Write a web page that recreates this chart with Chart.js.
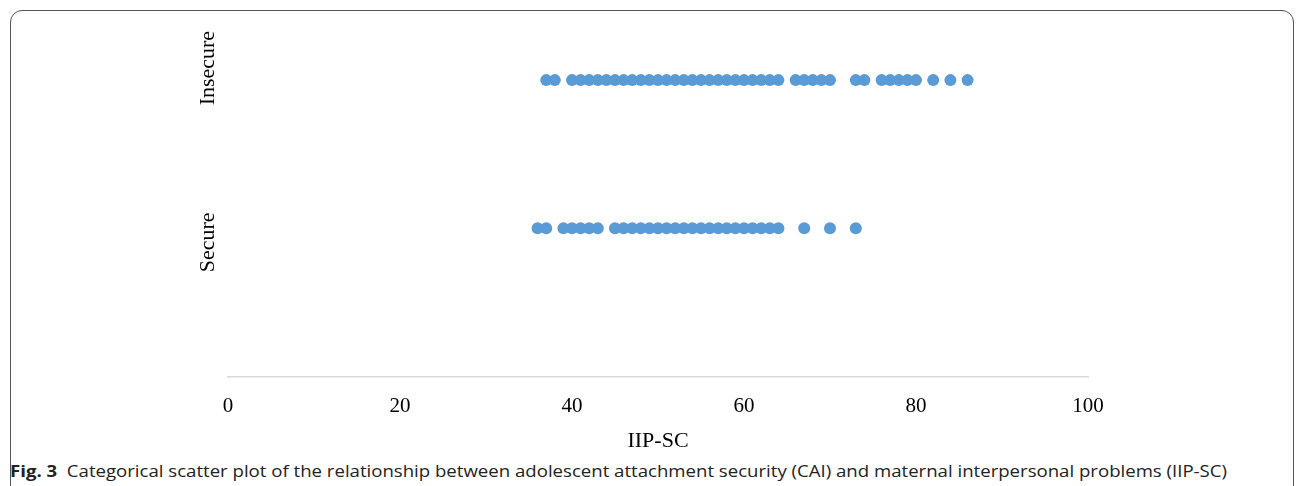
<!DOCTYPE html>
<html>
<head>
<meta charset="utf-8">
<script src="https://cdn.jsdelivr.net/npm/chart.js@4"></script>
<style>
  body { margin: 0; background: #fff; }
  #wrap { position: relative; width: 1296px; height: 486px; overflow: hidden; }
  #frame {
    position: absolute; left: 10px; top: 10px; width: 1284px; height: 520px;
    border: 1.5px solid #555; border-radius: 12px; box-sizing: border-box;
  }
  #plot { position: absolute; left: 0; top: 0; }
  #caption {
    position: absolute; left: 10px; top: 460px; white-space: nowrap;
    font-family: "Open Sans", sans-serif; font-size: 16px; color: #222;
    transform-origin: left center;
  }
  #caption b { font-weight: 700; }
</style>
</head>
<body>
<div id="wrap">
  <div id="frame"></div>
  <canvas id="plot" width="1296" height="458"></canvas>
  <div id="caption"><b>Fig. 3</b>&nbsp; Categorical scatter plot of the relationship between adolescent attachment security (CAI) and maternal interpersonal problems (IIP-SC)</div>
</div>
<script>
// IIP-SC scores (overlapping points collapsed)
const insecureScores = [37, 38, 40, 41, 42, 43, 44, 45, 46, 47, 48, 49, 50, 51, 52, 53, 54, 55, 56,
  57, 58, 59, 60, 61, 62, 63, 64, 66, 67, 68, 69, 70, 73, 74, 76, 77, 78, 79, 80, 82, 84, 86];
const secureScores = [36, 37, 39, 40, 41, 42, 43, 45, 46, 47, 48, 49, 50, 51, 52, 53, 54, 55, 56,
  57, 58, 59, 60, 61, 62, 63, 64, 67, 70, 73];
const groups = ["Secure", "Insecure"];
const xTicks = [0, 20, 40, 60, 80, 100];

const blue = "#5B9BD5";

// rotated category labels on the left, like Excel draws them
const groupLabels = {
    id: 'groupLabels',
    afterDraw(chart) {
        const ctx = chart.ctx;
        const y = chart.scales.y;
        const offsets = [14, -12];
        ctx.save();
        ctx.font = '22px "Liberation Serif", serif';
        ctx.fillStyle = '#000';
        ctx.textAlign = 'center';
        ctx.textBaseline = 'middle';
        groups.forEach(function(name, i) {
            const py = y.getPixelForValue(i + 1) + offsets[i];
            ctx.save();
            ctx.translate(208, py);
            ctx.rotate(-Math.PI / 2);
            ctx.fillText(name, 0, 0);
            ctx.restore();
        });
        ctx.restore();
    }
};

document.addEventListener("DOMContentLoaded", function() {
    let ctx = document.getElementById('plot').getContext('2d');
    new Chart(ctx, {
        type: 'scatter',
        data: {
            datasets: [{
                label: groups[1],
                data: insecureScores.map(v => ({ x: v, y: 2 })),
                backgroundColor: blue,
                borderWidth: 0,
                pointRadius: 6
            }, {
                label: groups[0],
                data: secureScores.map(v => ({ x: v, y: 1 })),
                backgroundColor: blue,
                borderWidth: 0,
                pointRadius: 6
            }]
        },
        options: {
            responsive: false,
            animation: false,
            layout: { padding: { left: 228, right: 208, top: 3.5, bottom: 4 } },
            plugins: { legend: { display: false }, tooltip: { enabled: false } },
            scales: {
                x: {
                    type: 'linear',
                    min: 0,
                    max: 100,
                    afterBuildTicks: function(axis) {
                        axis.ticks = xTicks.map(v => ({ value: v }));
                    },
                    grid: { display: false, drawTicks: false },
                    border: { display: true, color: '#d9d9d9', width: 1.5 },
                    ticks: {
                        padding: 19,
                        color: '#000',
                        font: { family: '"Liberation Serif", serif', size: 21, lineHeight: 1 }
                    },
                    title: {
                        display: true,
                        text: 'IIP-SC',
                        color: '#000',
                        padding: { top: -8, bottom: 0 },
                        font: { family: '"Liberation Serif", serif', size: 22 }
                    }
                },
                y: {
                    type: 'linear',
                    min: 0,
                    max: 2.5,
                    display: false
                }
            }
        },
        plugins: [groupLabels]
    });

    // stretch caption to the width used in the figure
    const cap = document.getElementById('caption');
    const w = cap.getBoundingClientRect().width;
    cap.style.transform = 'scaleX(' + (1217 / w) + ')';
});
</script>
</body>
</html>
